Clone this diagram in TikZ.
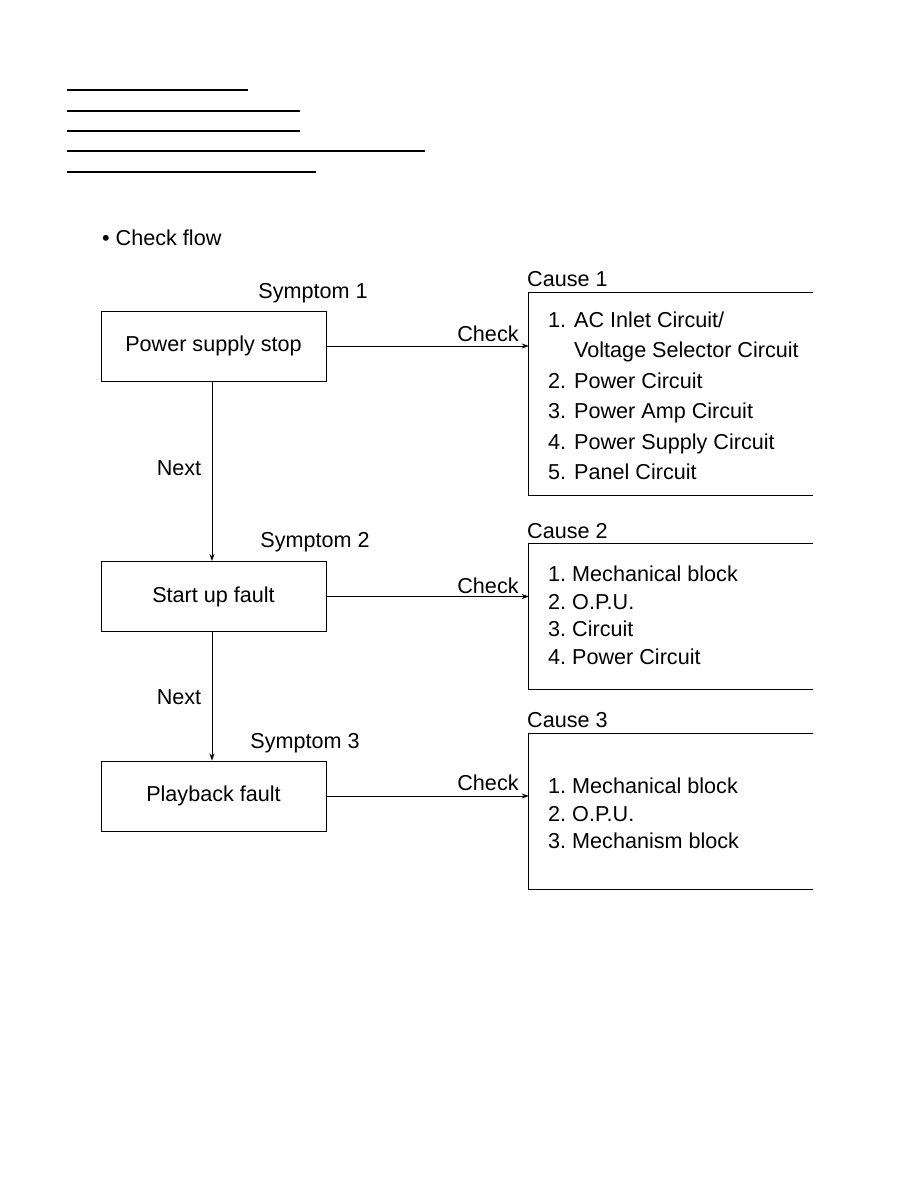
\documentclass[tikz,border=0pt]{standalone}
\usepackage{fontspec}
\setmainfont{Liberation Sans}
\usetikzlibrary{arrows.meta}
\begin{document}
\begin{tikzpicture}[x=1pt,y=-1pt,
  every node/.style={font=\fontsize{21.6}{24}\selectfont, inner sep=0pt},
  sbox/.style={draw, line width=0.9pt, minimum width=225pt, minimum height=70pt},
  cbox/.style={minimum width=284pt},
  arr/.style={-{Stealth[length=7pt,width=5pt]}, line width=0.8pt},
  topline/.style={line width=1.8pt},
  item/.style={anchor=base west}]
\useasboundingbox (0,0) rectangle (918,1188);
% header lines
\draw[topline] (67,90) -- (248,90);
\draw[topline] (67,111) -- (300,111);
\draw[topline] (67,131) -- (300,131);
\draw[topline] (67,151) -- (425,151);
\draw[topline] (67,172) -- (316,172);
\node[anchor=base west] (title) at (102,245) {\textbullet\ Check flow};

% symptom boxes
\node[sbox] (s1) at (213.5,346) {Power supply stop};
\node[sbox] (s2) at (213.5,596.5) {Start up fault};
\node[sbox] (s3) at (213.5,796) {Playback fault};
\node[anchor=base] (l1) at (313,298) {Symptom 1};
\node[anchor=base] (l2) at (315,547) {Symptom 2};
\node[anchor=base] (l3) at (305,748) {Symptom 3};

% cause boxes (right side cut off)
\node[cbox, minimum height=202pt] (c1) at (671,394) {};
\node[cbox, minimum height=145pt] (c2) at (671,616.5) {};
\node[cbox, minimum height=155pt] (c3) at (671,811.5) {};
\foreach \c in {c1,c2,c3}
  \draw[line width=0.9pt] (\c.north east) -- (\c.north west) -- (\c.south west) -- (\c.south east);
\node[anchor=base west] (k1) at (527,286) {Cause 1};
\node[anchor=base west] (k2) at (527,538) {Cause 2};
\node[anchor=base west] (k3) at (527,727) {Cause 3};

% cause 1 items
\node[item] (i11) at (548,327) {\makebox[26pt][l]{1.}AC Inlet Circuit/};
\node[item] (i11b) at (574,357) {Voltage Selector Circuit};
\node[item] (i12) at (548,388) {\makebox[26pt][l]{2.}Power Circuit};
\node[item] (i13) at (548,418) {\makebox[26pt][l]{3.}Power Amp Circuit};
\node[item] (i14) at (548,449) {\makebox[26pt][l]{4.}Power Supply Circuit};
\node[item] (i15) at (548,479) {\makebox[26pt][l]{5.}Panel Circuit};
% cause 2 items
\node[item] (i21) at (548,581) {\makebox[24pt][l]{1.}Mechanical block};
\node[item] (i22) at (548,609) {\makebox[24pt][l]{2.}O.P.U.};
\node[item] (i23) at (548,636) {\makebox[24pt][l]{3.}Circuit};
\node[item] (i24) at (548,664) {\makebox[24pt][l]{4.}Power Circuit};
% cause 3 items
\node[item] (i31) at (548,793) {\makebox[24pt][l]{1.}Mechanical block};
\node[item] (i32) at (548,821) {\makebox[24pt][l]{2.}O.P.U.};
\node[item] (i33) at (548,848) {\makebox[24pt][l]{3.}Mechanism block};

% connectors
\draw[arr] (s1.east) -- (s1.east -| c1.west);
\draw[arr] (s2.east) -- (s2.east -| c2.west);
\draw[arr] (s3.east) -- (s3.east -| c3.west);
\node[anchor=base] (ch1) at (488,341) {Check};
\node[anchor=base] (ch2) at (488,593) {Check};
\node[anchor=base] (ch3) at (488,790) {Check};
\draw[arr] (s1.south -| 212,0) -- (s2.north -| 212,0);
\draw[arr] (s2.south -| 212,0) -- (s3.north -| 212,0);
\node[anchor=base] (nx1) at (179,475) {Next};
\node[anchor=base] (nx2) at (179,704) {Next};
\end{tikzpicture}
\end{document}
